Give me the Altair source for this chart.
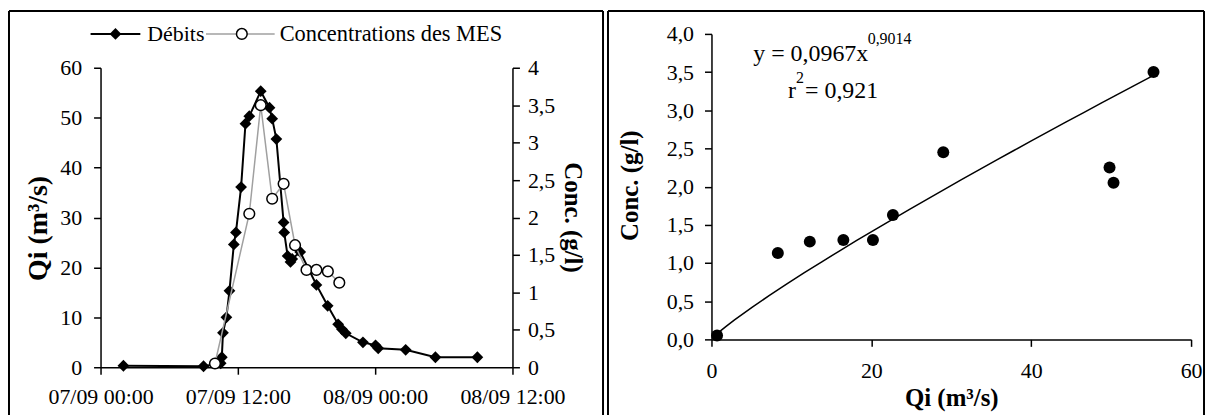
import altair as alt
import pandas as pd

debit_times = [
    "2008-09-07 02:00", "2008-09-07 09:00", "2008-09-07 10:30", "2008-09-07 10:36",
    "2008-09-07 10:42", "2008-09-07 11:00", "2008-09-07 11:16", "2008-09-07 11:39",
    "2008-09-07 11:50", "2008-09-07 12:17", "2008-09-07 12:40", "2008-09-07 13:00",
    "2008-09-07 14:00", "2008-09-07 14:46", "2008-09-07 15:00", "2008-09-07 15:22",
    "2008-09-07 16:00", "2008-09-07 16:03", "2008-09-07 16:21", "2008-09-07 16:36",
    "2008-09-07 16:45", "2008-09-07 17:27", "2008-09-07 18:52", "2008-09-07 19:51",
    "2008-09-07 20:46", "2008-09-07 21:06", "2008-09-07 21:26", "2008-09-07 22:56",
    "2008-09-08 00:02", "2008-09-08 00:16", "2008-09-08 02:40", "2008-09-08 05:16",
    "2008-09-08 08:56",
]
debit_qi = [
    0.3, 0.2, 0.8, 2.0,
    6.9, 10.0, 15.3, 24.6,
    27.0, 36.1, 48.8, 50.3,
    55.3, 52.0, 49.8, 45.7,
    29.0, 27.0, 22.3, 21.1,
    21.7, 23.1, 16.5, 12.3,
    8.6, 7.6, 6.8, 5.0,
    4.4, 3.8, 3.5, 2.0,
    2.0,
]

# prélèvements MES : heure, débit correspondant, concentration (g/l)
mes_times = [
    "2008-09-07 10:00", "2008-09-07 13:00", "2008-09-07 14:00", "2008-09-07 15:00",
    "2008-09-07 16:00", "2008-09-07 17:00", "2008-09-07 18:00", "2008-09-07 18:52",
    "2008-09-07 19:52", "2008-09-07 20:52",
]
mes_qi = [0.7, 50.3, 55.3, 49.8, 29.0, 22.7, 20.2, 16.5, 12.3, 8.3]
mes_conc = [0.05, 2.05, 3.5, 2.25, 2.45, 1.63, 1.3, 1.3, 1.28, 1.13]

time_ticks = ["2008-09-07 00:00", "2008-09-07 12:00", "2008-09-08 00:00", "2008-09-08 12:00"]
conc_ticks = [0, 0.5, 1, 1.5, 2, 2.5, 3, 3.5, 4]

FONT = "Liberation Serif"

debits = pd.DataFrame({"t": pd.to_datetime(debit_times), "qi": debit_qi})
mes = pd.DataFrame({"t": pd.to_datetime(mes_times), "qi": mes_qi, "conc": mes_conc})
one = pd.DataFrame({"a": [0]})


def dt(s):
    t = pd.Timestamp(s)
    return alt.DateTime(year=t.year, month=t.month, date=t.day, hours=t.hour, minutes=t.minute)


ticks_dt = [dt(s) for s in time_ticks]

# the left plot is taller than its axes so that both panels share the same origin
LH = 335
y_range = [LH, 34]

x_time = alt.X(
    "t:T",
    scale=alt.Scale(domain=[ticks_dt[0], ticks_dt[-1]]),
    axis=alt.Axis(values=ticks_dt, format="%d/%m %H:%M", title=None, labelPadding=12),
)

debit_line = alt.Chart(debits).mark_line(
    color="black", strokeWidth=2,
    point=alt.OverlayMarkDef(shape="diamond", filled=True, color="black", size=140, opacity=1),
).encode(
    x=x_time,
    y=alt.Y("qi:Q", scale=alt.Scale(domain=[0, 60], range=y_range),
            axis=alt.Axis(values=list(range(0, 61, 10)), orient="left", title="Qi (m³/s)",
                          labelPadding=12, titleX=-62, titleY=195, titleAngle=-90,
                          titleFontSize=28, titleAlign="center", titleBaseline="middle")),
)

mes_line = alt.Chart(mes).mark_line(
    color="#a0a0a0", strokeWidth=1.5,
    point=alt.OverlayMarkDef(shape="circle", filled=True, fill="white", stroke="black",
                             strokeWidth=1.5, size=115, opacity=1),
).encode(
    x="t:T",
    y=alt.Y("conc:Q", scale=alt.Scale(domain=[0, 4], range=y_range),
            axis=alt.Axis(values=conc_ticks, orient="right", title="Conc. (g/l)",
                          labelExpr="replace(format(datum.value, '~g'), '.', ',')",
                          labelPadding=8, titleX=60, titleY=184, titleAngle=90,
                          titleAlign="center", titleBaseline="middle")),
)

# légende faite à la main, en haut du cadre
leg_y = 0
leg = [
    alt.Chart(one).mark_rule(color="black", strokeWidth=2).encode(
        x=alt.value(-10), x2=alt.value(40), y=alt.value(leg_y)),
    alt.Chart(one).mark_point(shape="diamond", filled=True, color="black", size=140, opacity=1).encode(
        x=alt.value(15), y=alt.value(leg_y)),
    alt.Chart(one).mark_text(text="Débits", font=FONT, fontSize=22, align="left", baseline="middle").encode(
        x=alt.value(47), y=alt.value(leg_y)),
    alt.Chart(one).mark_rule(color="#a0a0a0", strokeWidth=1.5).encode(
        x=alt.value(106), x2=alt.value(175), y=alt.value(leg_y)),
    alt.Chart(one).mark_point(shape="circle", filled=True, fill="white", stroke="black",
                              strokeWidth=1.5, size=115, opacity=1).encode(
        x=alt.value(142), y=alt.value(leg_y)),
    alt.Chart(one).mark_text(text="Concentrations des MES", font=FONT, fontSize=22.5, align="left",
                             baseline="middle").encode(
        x=alt.value(180), y=alt.value(leg_y)),
]


def frame(left, right, top, bottom):
    st = dict(color="black", strokeWidth=2)
    return [
        alt.Chart(one).mark_rule(**st).encode(x=alt.value(left), y=alt.value(top), y2=alt.value(bottom)),
        alt.Chart(one).mark_rule(**st).encode(x=alt.value(left), x2=alt.value(right), y=alt.value(top)),
        alt.Chart(one).mark_rule(**st).encode(x=alt.value(right), y=alt.value(top), y2=alt.value(bottom)),
    ]


left = alt.layer(debit_line, mes_line, *leg, *frame(-92, 505, -23, 390)).resolve_scale(
    y="independent"
).properties(width=414, height=LH)

# relation Qi - concentration, ajustement puissance
x_qi = alt.X("qi:Q", scale=alt.Scale(domain=[0, 60]),
             axis=alt.Axis(values=[0, 20, 40, 60], title="Qi (m³/s)", labelPadding=14,
                           titleY=58, titleBaseline="middle"))
y_conc = alt.Y("conc:Q", scale=alt.Scale(domain=[0, 4]),
               axis=alt.Axis(values=conc_ticks, title="Conc. (g/l)",
                             labelExpr="replace(format(datum.value, '.1f'), '.', ',')",
                             labelPadding=11, titleX=-82, titleY=152, titleAngle=-90,
                             titleAlign="center", titleBaseline="middle"))

scatter = alt.Chart(mes).mark_circle(color="black", size=145, opacity=1).encode(x=x_qi, y=y_conc)

fit = alt.Chart(mes).transform_regression(
    "qi", "conc", method="pow", extent=[0.7, 55.3]
).mark_line(color="black", strokeWidth=1.5).encode(x=x_qi, y=y_conc)


def txt(s, x, y, size=24):
    return alt.Chart(one).mark_text(text=s, font=FONT, fontSize=size, align="left",
                                    baseline="middle").encode(x=alt.value(x), y=alt.value(y))


equation = [
    txt("y = 0,0967x", 42, 20),
    txt("0,9014", 157, 5, 16),
    txt("r", 77, 57),
    txt("2", 85, 44, 16),
    txt("= 0,921", 94, 57),
]

right = alt.layer(scatter, fit, *equation, *frame(-104, 495, -23, 390)).properties(
    width=482, height=307
)

chart = alt.hconcat(left, right, spacing=3).properties(
    padding={"left": 0, "top": 1, "right": 0, "bottom": 0}
).configure(font=FONT).configure_view(stroke=None).configure_axis(
    labelFont=FONT, labelFontSize=22, labelColor="black",
    titleFont=FONT, titleFontSize=25, titleFontWeight="bold", titleColor="black",
    domainColor="black", domainWidth=1.5, tickColor="black", tickWidth=1.5, tickSize=7,
    grid=False, labelFlush=False, labelOverlap=False,
)

chart.save("out.html", embed_options={"renderer": "svg", "actions": False})
